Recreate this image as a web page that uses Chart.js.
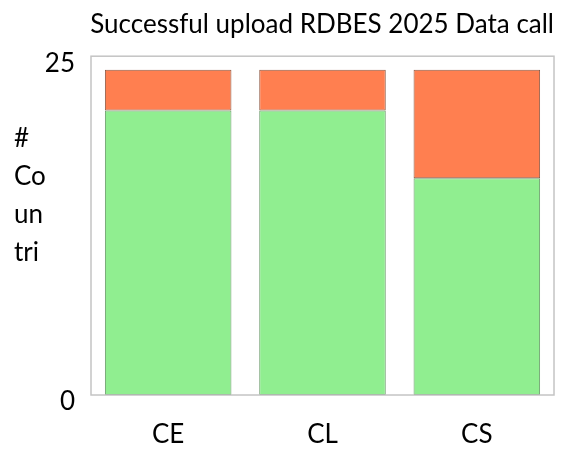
<!DOCTYPE html>
<html>
<head>
<meta charset="utf-8">
<script src="https://cdn.jsdelivr.net/npm/chart.js@4"></script>
<style>
  html, body { margin: 0; padding: 0; background: #fff; }
  #wrap { width: 563px; height: 453px; }
</style>
</head>
<body>
<div id="wrap"><canvas id="barChart" width="563" height="453"></canvas></div>
<script>
// data
var categories = ["CE", "CL", "CS"];
var successful = [21, 21, 16];
var notSuccessful = [3, 3, 8];
var yTicks = [0, 25];
var yTitleLines = ["#", "Co", "un", "tri"];

var FONT = "Lato";

// frame round the plot area + the wrapped y title
var framePlugin = {
  id: "frame",
  afterDraw: function (chart) {
    var ctx = chart.ctx;
    var a = chart.chartArea;
    ctx.save();
    ctx.strokeStyle = "#c4c4c4";
    ctx.lineWidth = 1.5;
    ctx.strokeRect(a.left, a.top, a.right - a.left, a.bottom - a.top);
    ctx.fillStyle = "#000";
    ctx.font = "26px " + FONT;
    ctx.textAlign = "left";
    ctx.textBaseline = "alphabetic";
    yTitleLines.forEach(function (t, i) {
      ctx.fillText(t, 14, a.top + 91 + i * 38);
    });
    ctx.restore();
  }
};

var ctxB = document.getElementById("barChart").getContext("2d");
var chart = new Chart(ctxB, {
  type: "bar",
  data: {
    labels: categories,
    datasets: [
      {
        label: "Successful",
        data: successful,
        backgroundColor: "#90EE90",
        borderColor: "#6a9a6a",
        borderWidth: 1,
        borderSkipped: false,
        categoryPercentage: 1,
        barPercentage: 0.82
      },
      {
        label: "Not successful",
        data: notSuccessful,
        backgroundColor: "#FF7F50",
        borderColor: "#8f5a44",
        borderWidth: 1,
        borderSkipped: false,
        categoryPercentage: 1,
        barPercentage: 0.82
      }
    ]
  },
  options: {
    responsive: false,
    animation: false,
    layout: { padding: { left: 0, right: 9, top: 0, bottom: 0 } },
    plugins: {
      legend: { display: false },
      tooltip: { enabled: false },
      title: {
        display: true,
        text: "Successful upload RDBES 2025 Data call",
        align: "end",
        color: "#000",
        font: { family: FONT, size: 26, weight: "normal" },
        padding: { top: 9, bottom: 16 }
      }
    },
    scales: {
      x: {
        stacked: true,
        grid: { display: false, drawTicks: false },
        border: { display: false },
        ticks: { color: "#000", padding: 24, font: { family: FONT, size: 26 } },
        afterFit: function (s) { s.height = 58; }
      },
      y: {
        stacked: true,
        min: 0,
        max: 25,
        afterBuildTicks: function (s) {
          s.ticks = yTicks.map(function (v) { return { value: v }; });
        },
        grid: { display: false, drawTicks: false },
        border: { display: false },
        ticks: { color: "#000", padding: 16, labelOffset: 7, font: { family: FONT, size: 26 } },
        afterFit: function (s) { s.width = 91; }
      }
    }
  },
  plugins: [framePlugin]
});
</script>
</body>
</html>
